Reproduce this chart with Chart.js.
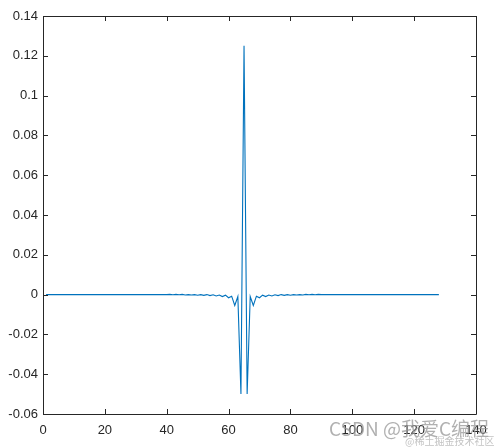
<!DOCTYPE html>
<html>
<head>
<meta charset="utf-8">
<script src="https://cdn.jsdelivr.net/npm/chart.js@4.4.1/dist/chart.umd.min.js"></script>
<style>
  html, body { margin: 0; padding: 0; background: #ffffff; }
  #wrap { position: relative; width: 502px; height: 448px; overflow: hidden; }
  canvas { display: block; }
  .wm1 { position: absolute; left: 329px; top: 413px; font-family: "Noto Sans CJK SC", "Liberation Sans", sans-serif; font-size: 19px; color: rgba(150,150,150,0.75); white-space: nowrap; line-height: 30px; }
  .wm2 { position: absolute; left: 405px; top: 435px; font-family: "Noto Sans CJK SC", sans-serif; font-size: 10px; color: rgba(170,170,170,0.7); white-space: nowrap; line-height: 12px; }
</style>
</head>
<body>
<div id="wrap">
<canvas id="c" width="502" height="448"></canvas>
<div class="wm1">CSDN @我爱C编程</div>
<div class="wm2">@稀土掘金技术社区</div>
</div>
<script>
// sample index 1..128
const sampleIndex = [];
for (let i = 1; i <= 128; i++) sampleIndex.push(i);

// impulse response values (index 1..128, centre at 65)
const responseValues = [
  0, 0, 0, 0, 0, 0, 0, 0, 0, 0,
  0, 0, 0, 0, 0, 0, 0, 0, 0, 0,
  0, 0, 0, 0, 0, 0, 0, 0, 0, 0,
  0, 0, 0, 0, 0, 0, 0, 0, 0, 0,
  0.0001, -0.0001, 0.0001, -0.0001, 0.0001, -0.0002, 0, -0.0002, 0, -0.0003,
  0, -0.0004, 0, -0.0005, -0.0001, -0.0007, -0.0002, -0.001, -0.0003, -0.0016,
  -0.0008, -0.0055, -0.001, -0.05, 0.125, -0.05, -0.001, -0.0055, -0.0008, -0.0016,
  -0.0003, -0.001, -0.0002, -0.0007, -0.0001, -0.0005, 0, -0.0004, 0, -0.0003,
  0, -0.0002, 0, -0.0002, 0.0001, -0.0001, 0.0001, -0.0001, 0.0001, 0,
  0, 0, 0, 0, 0, 0, 0, 0, 0, 0,
  0, 0, 0, 0, 0, 0, 0, 0, 0, 0,
  0, 0, 0, 0, 0, 0, 0, 0, 0, 0,
  0, 0, 0, 0, 0, 0, 0, 0
];

const xTicks = [0, 20, 40, 60, 80, 100, 120, 140];
const yTicks = [-0.06, -0.04, -0.02, 0, 0.02, 0.04, 0.06, 0.08, 0.1, 0.12, 0.14];
const yTickLabels = ['-0.06', '-0.04', '-0.02', '0', '0.02', '0.04', '0.06', '0.08', '0.1', '0.12', '0.14'];

const points = sampleIndex.map((x, i) => ({ x: x, y: responseValues[i] }));

const boxPlugin = {
  id: 'matlabBox',
  afterDatasetsDraw(chart) {
    const { ctx, chartArea: a, scales } = chart;
    ctx.save();
    ctx.strokeStyle = '#262626';
    ctx.lineWidth = 1;
    ctx.beginPath();
    ctx.rect(Math.round(a.left) + 0.5, Math.round(a.top) + 0.5, Math.round(a.right - a.left), Math.round(a.bottom - a.top));
    ctx.stroke();
    const t = 5;
    ctx.beginPath();
    xTicks.forEach(v => {
      const px = Math.round(scales.x.getPixelForValue(v)) + 0.5;
      ctx.moveTo(px, a.bottom); ctx.lineTo(px, a.bottom - t);
      ctx.moveTo(px, a.top); ctx.lineTo(px, a.top + t);
    });
    yTicks.forEach(v => {
      const py = Math.round(scales.y.getPixelForValue(v)) + 0.5;
      ctx.moveTo(a.left, py); ctx.lineTo(a.left + t, py);
      ctx.moveTo(a.right, py); ctx.lineTo(a.right - t, py);
    });
    ctx.stroke();
    ctx.restore();
  }
};

new Chart(document.getElementById('c'), {
  type: 'line',
  data: {
    datasets: [{
      data: points,
      borderColor: '#0072BD',
      borderWidth: 1.1,
      pointRadius: 0,
      tension: 0,
      fill: false
    }]
  },
  options: {
    responsive: false,
    animation: false,
    devicePixelRatio: 1,
    layout: { padding: { left: 0, right: 26, top: 16, bottom: 0 } },
    plugins: { legend: { display: false }, tooltip: { enabled: false } },
    scales: {
      x: {
        type: 'linear',
        min: 0, max: 140,
        afterBuildTicks: s => { s.ticks = xTicks.map(v => ({ value: v })); },
        afterFit: s => { s.height = 34; },
        grid: { display: false, drawTicks: false },
        border: { display: false },
        ticks: {
          color: '#262626',
          font: { family: 'Liberation Sans, Arial, sans-serif', size: 13 },
          padding: 9,
          maxRotation: 0,
          autoSkip: false,
          callback: v => String(v)
        }
      },
      y: {
        type: 'linear',
        min: -0.06, max: 0.14,
        afterBuildTicks: s => { s.ticks = yTicks.map(v => ({ value: v })); },
        afterFit: s => { s.width = 43; },
        grid: { display: false, drawTicks: false },
        border: { display: false },
        ticks: {
          color: '#262626',
          font: { family: 'Liberation Sans, Arial, sans-serif', size: 13 },
          padding: 5,
          autoSkip: false,
          callback: (v, i) => yTickLabels[i]
        }
      }
    }
  },
  plugins: [boxPlugin]
});
</script>
</body>
</html>
